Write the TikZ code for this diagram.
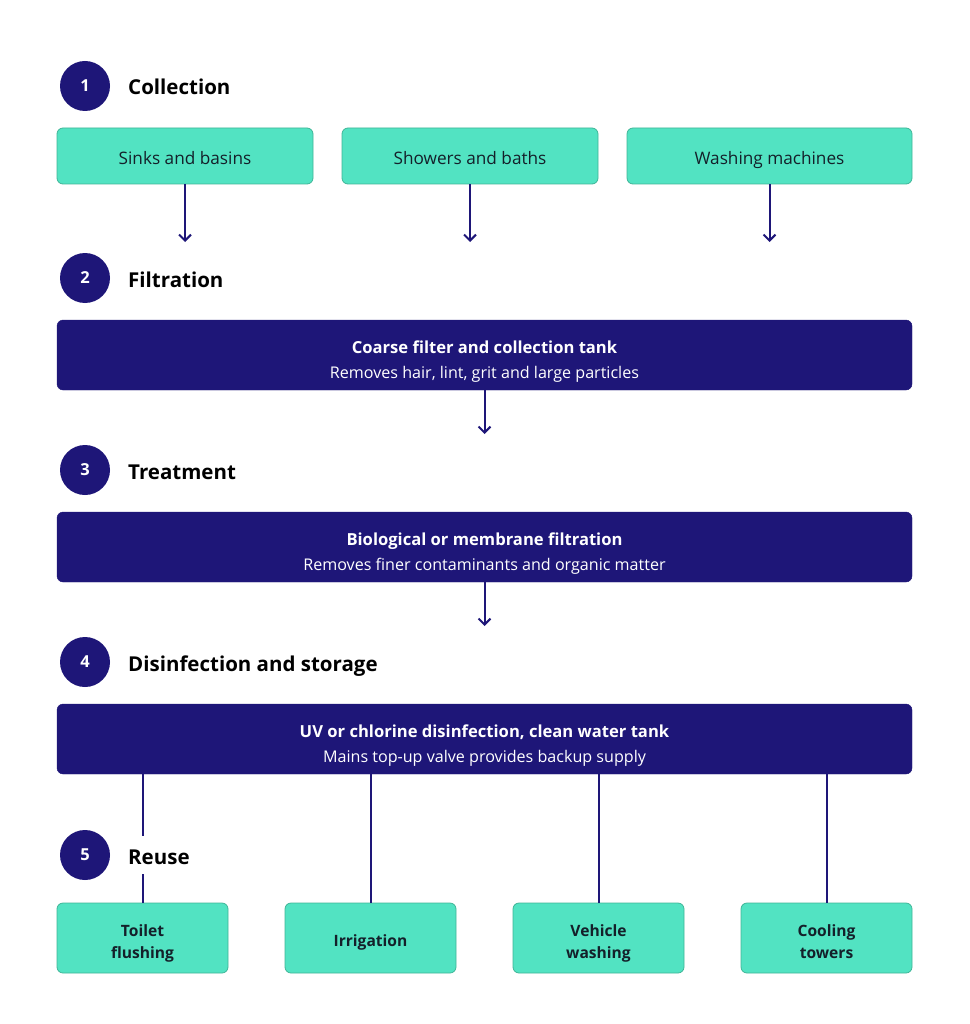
\documentclass[tikz,border=0pt]{standalone}
\usepackage{fontspec}
\setmainfont{Open Sans}
\usetikzlibrary{arrows.meta}
\definecolor{navy}{HTML}{1E1678}
\definecolor{teal}{HTML}{52E3C2}
\definecolor{tealedge}{HTML}{3FB597}
\definecolor{ink}{HTML}{14202A}
\tikzset{
  x=1pt,y=-1pt,
  numcirc/.style={circle,fill=navy,minimum size=50pt,inner sep=0pt,text=white,font=\fontsize{16.5}{20}\selectfont\bfseries},
  header/.style={anchor=west,fill=white,inner xsep=2pt,inner ysep=6pt,text height=22pt,text depth=4pt,font=\fontsize{20.5}{24}\selectfont\bfseries},
  srcbox/.style={draw=tealedge,line width=0.8pt,fill=teal,rounded corners=6pt,text=ink,text height=22pt,text depth=4pt,font=\fontsize{17.2}{20}\selectfont},
  usebox/.style={draw=tealedge,line width=0.8pt,fill=teal,rounded corners=6pt,minimum width=171pt,minimum height=70pt},
  uselabel/.style={align=center,inner sep=0pt,text=ink,font=\fontsize{15.6}{22}\selectfont\bfseries},
  darkbox/.style={draw=navy,fill=navy,rounded corners=6pt,minimum width=855pt,minimum height=70pt},
  ttl/.style={anchor=base,text=white,font=\fontsize{16.6}{20}\selectfont\bfseries},
  sub/.style={anchor=base,text=white,font=\fontsize{16.1}{19}\selectfont},
  flow/.style={draw=navy,line width=2pt,-{Straight Barb[length=6pt,width=12pt,line width=2pt]}},
  link/.style={draw=navy,line width=2pt}
}
\begin{document}
\begin{tikzpicture}
\useasboundingbox (0,0) rectangle (969,1024);
% step 1
\node[numcirc] (c1) at (85,86) {1};
\node[header] (h1) at (126,86) {Collection};
\node[srcbox,minimum width=256pt,minimum height=56pt] (s1) at (185,156) {Sinks and basins};
\node[srcbox,minimum width=256pt,minimum height=56pt] (s2) at (470,156) {Showers and baths};
\node[srcbox,minimum width=285pt,minimum height=56pt] (s3) at (769.5,156) {Washing machines};
\coordinate (a1) at (185,242);
\coordinate (a2) at (470,242);
\coordinate (a3) at (769.5,242);
\draw[flow] (s1.south) -- (a1);
\draw[flow] (s2.south) -- (a2);
\draw[flow] (s3.south) -- (a3);
% step 2
\node[numcirc] (c2) at (85,278) {2};
\node[header] (h2) at (126,278) {Filtration};
\node[darkbox] (d1) at (484.5,355) {};
\node[ttl] (t1) at (484.5,353) {Coarse filter and collection tank};
\node[sub] (u1) at (484.5,378) {Removes hair, lint, grit and large particles};
\coordinate (a4) at (484.5,434);
\draw[flow] (d1.south) -- (a4);
% step 3
\node[numcirc] (c3) at (85,470) {3};
\node[header] (h3) at (126,470) {Treatment};
\node[darkbox] (d2) at (484.5,547) {};
\node[ttl] (t2) at (484.5,545) {Biological or membrane filtration};
\node[sub] (u2) at (484.5,570) {Removes finer contaminants and organic matter};
\coordinate (a5) at (484.5,626);
\draw[flow] (d2.south) -- (a5);
% step 4
\node[numcirc] (c4) at (85,662) {4};
\node[header] (h4) at (126,662) {Disinfection and storage};
\node[darkbox] (d3) at (484.5,739) {};
\node[ttl] (t3) at (484.5,737) {UV or chlorine disinfection, clean water tank};
\node[sub] (u3) at (484.5,762) {Mains top-up valve provides backup supply};
% step 5 boxes
\node[usebox] (r1) at (142.5,938) {};
\node[usebox] (r2) at (370.5,938) {};
\node[usebox] (r3) at (598.5,938) {};
\node[usebox] (r4) at (826.5,938) {};
\node[uselabel,anchor=north] (l1) at (142.5,924) {Toilet\\flushing};
\node[uselabel,anchor=base] (l2) at (370.5,946.5) {Irrigation};
\node[uselabel,anchor=north] (l3) at (598.5,924) {Vehicle\\washing};
\node[uselabel,anchor=north] (l4) at (826.5,924) {Cooling\\towers};
\draw[link] (d3.south -| r1.north) -- (r1.north);
\draw[link] (d3.south -| r2.north) -- (r2.north);
\draw[link] (d3.south -| r3.north) -- (r3.north);
\draw[link] (d3.south -| r4.north) -- (r4.north);
\node[numcirc] (c5) at (85,855) {5};
\node[header] (h5) at (126,855) {Reuse};
\end{tikzpicture}
\end{document}
